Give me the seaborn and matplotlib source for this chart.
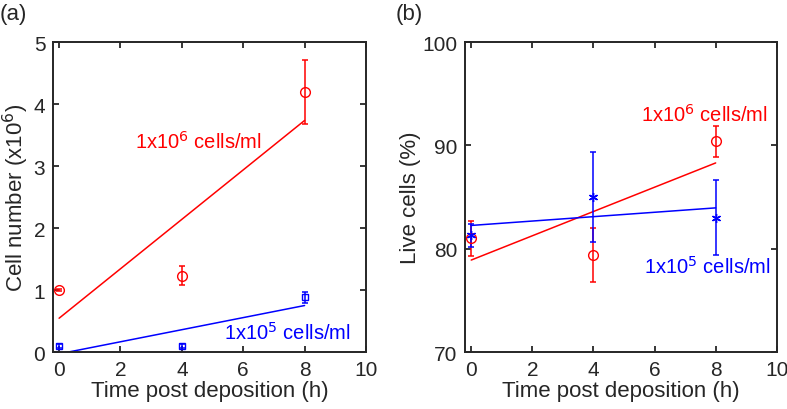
import numpy as np
import pandas as pd
import matplotlib
matplotlib.use("Agg")
import matplotlib.pyplot as plt
import seaborn as sns

# time points (h)
hours = [0, 4, 8]

# (a) cell number (x10^6)
count_hi = [1.00, 1.23, 4.19]
count_hi_err = [0.02, 0.15, 0.52]
count_lo = [0.10, 0.10, 0.88]
count_lo_err = [0.03, 0.03, 0.09]

# (b) live cells (%)
live_hi = [81.0, 79.4, 90.4]
live_hi_err = [1.7, 2.6, 1.5]
live_lo = [81.3, 85.0, 83.0]
live_lo_err = [1.1, 4.4, 3.6]

sns.set_style("ticks")
plt.rcParams["font.family"] = ["Liberation Sans", "DejaVu Sans"]

RED = "#ff0000"
BLUE = "#0000ff"
INK = "#262626"

fig = plt.figure(figsize=(7.87, 4.10), dpi=100)
ax1 = fig.add_axes([0.0673, 0.139, 0.3977, 0.756])
ax2 = fig.add_axes([0.591, 0.139, 0.396, 0.756])


def draw(ax, y, err, color, marker, ms):
    df = pd.DataFrame({"t": hours, "y": y})
    # least-squares fit line over the data range
    sns.regplot(data=df, x="t", y="y", ax=ax, scatter=False, ci=None,
                truncate=True, color=color, line_kws={"lw": 1.1})
    ax.errorbar(hours, y, yerr=err, fmt="none", ecolor=color, elinewidth=1.1,
                capsize=2.5, capthick=1.1)
    ax.plot(hours, y, ls="none", marker=marker, ms=ms, mfc="none",
            mec=color, mew=1.0, zorder=5)


draw(ax1, count_hi, count_hi_err, RED, "o", 7)
draw(ax1, count_lo, count_lo_err, BLUE, "s", 4.5)
draw(ax2, live_hi, live_hi_err, RED, "o", 7)
draw(ax2, live_lo, live_lo_err, BLUE, (6, 2, 0), 6.5)

for ax in (ax1, ax2):
    ax.set_xlim(-0.2, 10)
    ax.set_xticks([0, 2, 4, 6, 8, 10])
    ax.set_xlabel("Time post deposition (h)", fontsize=16, color=INK, labelpad=1)
    ax.tick_params(direction="in", top=True, right=True, length=4, width=1.3,
                   labelsize=15, colors=INK, pad=5.5)
    for s in ax.spines.values():
        s.set_linewidth(1.4)
        s.set_color(INK)
        s.set_visible(True)

ax1.set_ylim(0, 5)
ax1.set_yticks([0, 1, 2, 3, 4, 5])
ax1.set_ylabel("Cell number (x10$^{6}$)", fontsize=16, color=INK, labelpad=2)
ax2.set_ylim(70, 100)
ax2.set_yticks([70, 80, 90, 100])
ax2.set_ylabel("Live cells (%)", fontsize=16, color=INK, labelpad=1)

ax1.text(2.47, 3.3, "1x10$^{6}$ cells/ml", color=RED, fontsize=14.5)
ax1.text(5.36, 0.21, "1x10$^{5}$ cells/ml", color=BLUE, fontsize=14.5)
ax2.text(5.56, 92.4, "1x10$^{6}$ cells/ml", color=RED, fontsize=14.5)
ax2.text(5.66, 77.7, "1x10$^{5}$ cells/ml", color=BLUE, fontsize=14.5)

fig.text(0.0, 0.965, "(a)", fontsize=16, color=INK, va="center")
fig.text(0.503, 0.965, "(b)", fontsize=16, color=INK, va="center")

fig.savefig("out.png", dpi=100)
